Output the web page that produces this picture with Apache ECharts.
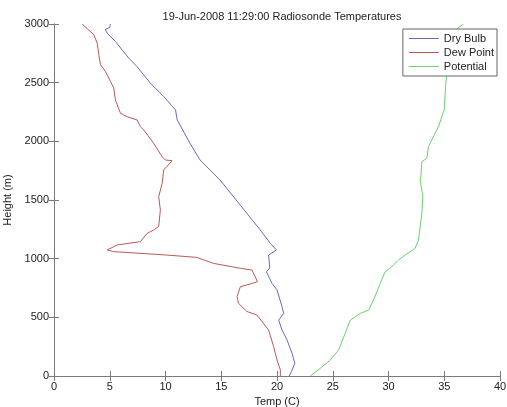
<!DOCTYPE html>
<html>
<head>
<meta charset="utf-8">
<script src="https://cdn.jsdelivr.net/npm/echarts@6/dist/echarts.min.js"></script>
<style>
  html, body { margin: 0; padding: 0; background: #fff; }
  #chart { width: 507px; height: 407px; }
</style>
</head>
<body>
<div id="chart"></div>
<script>
// radiosonde profile (temp in C, height in m)
var dryBulbTemp   = [21.1, 21.3, 21.6, 21.35, 20.9, 20.45, 20.15, 20.6, 20.45, 20.0, 19.55, 19.05, 19.35, 19.25, 19.95, 19.4, 18.5, 17.3, 16.7, 14.9, 13.1, 12.2, 11.05, 10.9, 9.85, 8.65, 7.45, 6.7, 5.5, 4.75, 4.6, 5.0, 5.05];
var dryBulbHeight = [0, 40, 108, 193, 307, 392, 477, 534, 591, 735, 790, 889, 920, 1031, 1074, 1131, 1244, 1386, 1457, 1670, 1841, 1983, 2182, 2267, 2381, 2495, 2636, 2710, 2852, 2923, 2952, 2972, 3000];

var dewPointTemp   = [20.3, 20.3, 20.0, 19.7, 19.25, 18.2, 17.3, 16.55, 16.42, 16.71, 17.6, 18.25, 17.76, 16.71, 14.3, 12.8, 10.1, 5.35, 4.77, 5.36, 5.66, 7.75, 8.35, 8.94, 9.39, 9.54, 9.39, 9.7, 9.84, 10.59, 9.99, 9.7, 8.94, 8.05, 7.75, 7.45, 6.56, 5.96, 5.51, 5.36, 5.06, 4.61, 4.17, 4.02, 3.87, 3.57, 2.52];
var dewPointHeight = [0, 51, 136, 250, 392, 520, 550, 619, 676, 761, 784, 804, 903, 918, 960, 1011, 1031, 1060, 1074, 1102, 1117, 1145, 1216, 1244, 1275, 1415, 1528, 1642, 1756, 1835, 1841, 1869, 1983, 2097, 2125, 2182, 2210, 2239, 2352, 2455, 2511, 2596, 2653, 2739, 2838, 2909, 3000];

var potentialTemp   = [22.98, 23.88, 24.78, 25.52, 26.12, 26.57, 27.47, 28.21, 28.66, 29.26, 29.7, 30.15, 30.9, 31.5, 32.39, 32.69, 32.99, 33.08, 32.84, 32.9, 32.99, 33.44, 33.58, 34.18, 34.48, 34.99, 35.14, 35.23, 35.23, 36.72];
var potentialHeight = [0, 65, 136, 222, 364, 477, 534, 562, 648, 790, 889, 918, 989, 1031, 1088, 1159, 1386, 1528, 1670, 1699, 1827, 1855, 1954, 2068, 2125, 2267, 2494, 2582, 2892, 3000];

var seriesNames  = ['Dry Bulb', 'Dew Point', 'Potential'];
var seriesColors = ['#6a6ab8', '#b85a5a', '#6cd06c'];

function pairs(xs, ys) {
    return xs.map(function (x, i) { return [x, ys[i]]; });
}

var chart = echarts.init(document.getElementById('chart'));
var axisGray = '#7a7a7a';
var font = 'Liberation Sans, Arial, sans-serif';

function lineSeries(i, temps, heights) {
    return {
        name: seriesNames[i], type: 'line', symbol: 'none',
        color: seriesColors[i],
        data: pairs(temps, heights),
        lineStyle: { width: 1, color: seriesColors[i] },
        itemStyle: { color: seriesColors[i] }
    };
}

var option = {
    backgroundColor: '#fff',
    animation: false,
    textStyle: { fontFamily: font },
    title: {
        text: '19-Jun-2008 11:29:00 Radiosonde Temperatures',
        left: 277,
        textAlign: 'center',
        top: 6,
        textStyle: { fontSize: 11, fontWeight: 'normal', color: '#222', fontFamily: font }
    },
    legend: {
        orient: 'vertical',
        right: 10,
        top: 29,
        padding: [4, 3, 4, 6],
        itemGap: 3,
        itemWidth: 30,
        itemHeight: 1,
        icon: 'rect',
        backgroundColor: '#fff',
        borderColor: '#666',
        borderWidth: 1,
        borderRadius: 0,
        textStyle: { fontSize: 11, color: '#222', fontFamily: font },
        data: seriesNames.map(function (n, i) {
            return { name: n, itemStyle: { color: seriesColors[i] } };
        })
    },
    grid: { left: 54, right: 7, top: 24, bottom: 31, containLabel: false, outerBoundsMode: 'none' },
    xAxis: [{
        type: 'value', min: 0, max: 40, interval: 5,
        name: 'Temp (C)', nameLocation: 'middle', nameGap: 18,
        nameTextStyle: { fontSize: 11, color: '#222', fontFamily: font },
        axisLine: { lineStyle: { color: axisGray } },
        axisTick: { inside: true, length: 5, lineStyle: { color: axisGray } },
        axisLabel: { fontSize: 11, color: '#222', margin: 5, formatter: function (v) { return String(v); } },
        splitLine: { show: false }
    }, {
        type: 'value', min: 0, max: 40, interval: 5, position: 'top',
        axisLine: { lineStyle: { color: axisGray } },
        axisTick: { inside: true, length: 5, lineStyle: { color: axisGray } },
        axisLabel: { show: false },
        splitLine: { show: false }
    }],
    yAxis: [{
        type: 'value', min: 0, max: 3000, interval: 500,
        name: 'Height (m)', nameLocation: 'middle', nameGap: 34, nameRotate: 90,
        nameTextStyle: { fontSize: 11, color: '#222', fontFamily: font },
        axisLine: { show: true, lineStyle: { color: axisGray } },
        axisTick: { show: true, inside: true, length: 5, lineStyle: { color: axisGray } },
        axisLabel: { fontSize: 11, color: '#222', margin: 5, formatter: function (v) { return String(v); } },
        splitLine: { show: false }
    }, {
        type: 'value', min: 0, max: 3000, interval: 500, position: 'right',
        axisLine: { show: true, lineStyle: { color: axisGray } },
        axisTick: { show: true, inside: true, length: 5, lineStyle: { color: axisGray } },
        axisLabel: { show: false },
        splitLine: { show: false }
    }],
    series: [
        lineSeries(0, dryBulbTemp, dryBulbHeight),
        lineSeries(1, dewPointTemp, dewPointHeight),
        lineSeries(2, potentialTemp, potentialHeight)
    ]
};
chart.setOption(option);
</script>
</body>
</html>
